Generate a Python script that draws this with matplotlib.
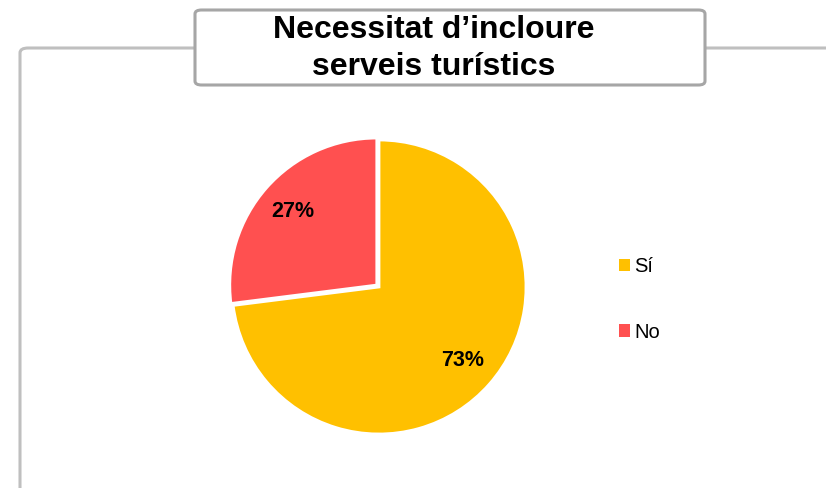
import matplotlib
matplotlib.use("Agg")
import matplotlib.pyplot as plt
from matplotlib.patches import FancyBboxPatch, Patch

# Survey answers
categories = ["Sí", "No"]
shares = [73, 27]
colors = ["#FFC000", "#FF5050"]
title_lines = ["Necessitat d\u2019incloure", "serveis turístics"]

W, H = 826, 488
fig = plt.figure(figsize=(W / 100, H / 100), dpi=100)
fig.patch.set_facecolor("white")
plt.rcParams["font.family"] = ["Liberation Sans", "DejaVu Sans"]

# Outer chart frame (runs past the right and bottom edges)
frame = FancyBboxPatch((20 / W, 1 - (48 + 500) / H), 1000 / W, 500 / H,
                       boxstyle="round,pad=0,rounding_size=0.01",
                       transform=fig.transFigure, facecolor="none",
                       edgecolor="#BFBFBF", linewidth=2.2, clip_on=False)
fig.patches.append(frame)

# Pie
cx, cy, r = 379, 287, 147
half = 152
ax = fig.add_axes([(cx - half) / W, (H - cy - half) / H, 2 * half / W, 2 * half / H])
wedges, texts, autotexts = ax.pie(
    shares, colors=colors, startangle=90, counterclock=False,
    explode=[0, 0.02], radius=1,
    autopct=lambda p: f"{p:.0f}%", pctdistance=0.76,
    wedgeprops=dict(edgecolor="white", linewidth=2),
    textprops=dict(fontsize=15.5, fontweight="bold", color="black"))
lim = half / r
ax.set_xlim(-lim, lim)
ax.set_ylim(-lim, lim)
ax.set_aspect("equal")
ax.axis("off")

# Legend
handles = [Patch(facecolor=c, edgecolor="none") for c in colors]
fig.legend(handles, categories, loc="center left",
           bbox_to_anchor=(609 / W, 1 - 299.5 / H), frameon=False,
           fontsize=14.5, handlelength=0.55, handleheight=0.55,
           handletextpad=0.2, labelspacing=2.3, borderpad=0)

# Title box
bx0, by0, bx1, by1 = 195, 10, 705, 85
title_box = FancyBboxPatch((bx0 / W, 1 - by1 / H), (bx1 - bx0) / W, (by1 - by0) / H,
                           boxstyle="round,pad=0,rounding_size=0.008",
                           transform=fig.transFigure, facecolor="white",
                           edgecolor="#A6A6A6", linewidth=2.2, zorder=5)
fig.patches.append(title_box)
for line, ty in zip(title_lines, [30, 67]):
    fig.text(434 / W, 1 - ty / H, line, ha="center", va="center",
             fontsize=23, fontweight="bold", color="black", zorder=6)

fig.savefig("out.png", dpi=100, facecolor="white")
